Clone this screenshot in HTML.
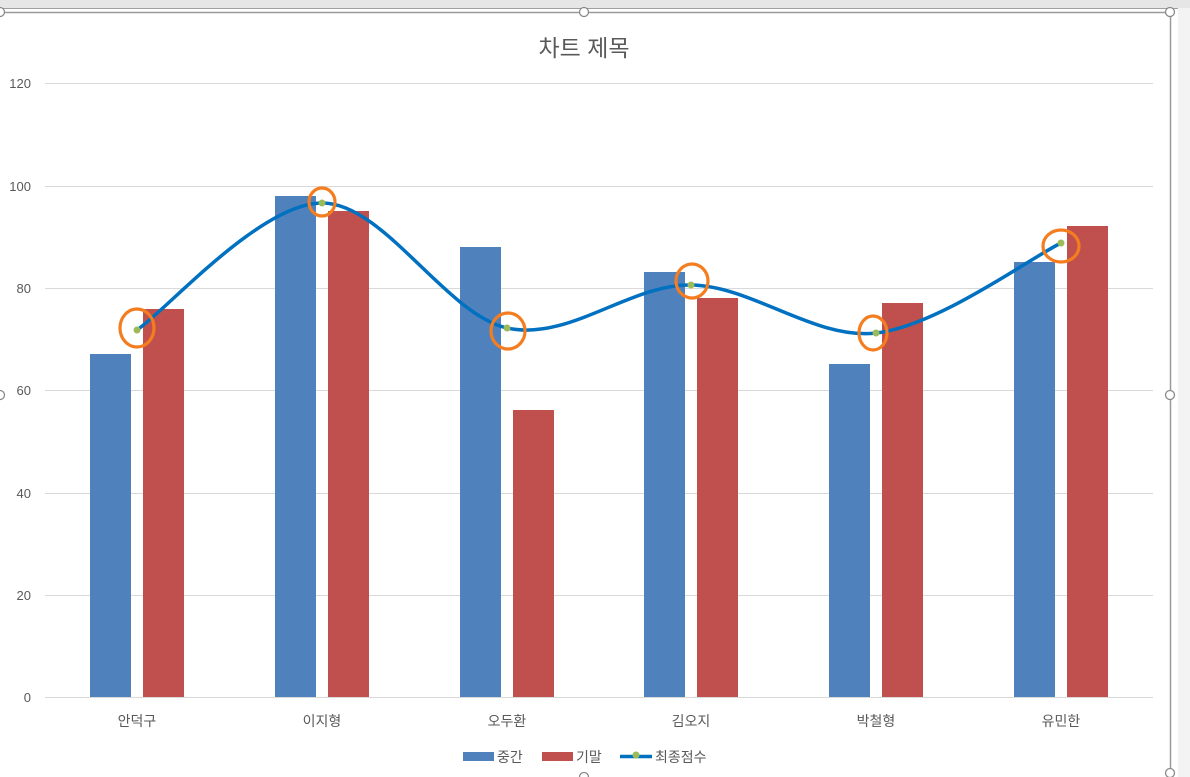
<!DOCTYPE html>
<html><head><meta charset="utf-8"><style>
html,body{margin:0;padding:0;background:#fff;}
svg{display:block;font-family:"Liberation Sans","Noto Sans CJK KR",sans-serif;}
</style></head><body>
<svg width="1190" height="777" viewBox="0 0 1190 777">
<rect x="0" y="0" width="1190" height="8" fill="#e6e6e6"/>
<line x1="0" y1="8.5" x2="1190" y2="8.5" stroke="#a0a0a0"/>
<rect x="1178" y="8" width="12" height="769" fill="#f3f3f3"/>
<line x1="0" y1="12.5" x2="1170" y2="12.5" stroke="#9a9a9a" stroke-width="1.5"/>
<line x1="1170.5" y1="12" x2="1170.5" y2="777" stroke="#9a9a9a" stroke-width="1.5"/>
<g fill="#fff" stroke="#8a8a8a" stroke-width="1.3">
<circle cx="0" cy="12" r="4.5"/><circle cx="584" cy="12" r="4.5"/><circle cx="1170" cy="12" r="4.5"/>
<circle cx="0" cy="395" r="4.5"/><circle cx="1170" cy="395" r="4.5"/><circle cx="1170" cy="773" r="4.5"/><circle cx="584" cy="777" r="4.5"/>
</g>
<text x="584" y="56" text-anchor="middle" font-size="23" fill="#595959">차트 제목</text>
<g stroke="#d9d9d9" stroke-width="1">
<line x1="45" y1="83.5" x2="1153" y2="83.5"/><line x1="45" y1="186.5" x2="1153" y2="186.5"/>
<line x1="45" y1="288.5" x2="1153" y2="288.5"/><line x1="45" y1="390.5" x2="1153" y2="390.5"/>
<line x1="45" y1="493.5" x2="1153" y2="493.5"/><line x1="45" y1="595.5" x2="1153" y2="595.5"/>
<line x1="45" y1="697.5" x2="1153" y2="697.5"/>
</g>
<g font-size="13" fill="#595959" text-anchor="end">
<text x="31" y="88">120</text><text x="31" y="191">100</text><text x="31" y="293">80</text>
<text x="31" y="395">60</text><text x="31" y="498">40</text><text x="31" y="600">20</text><text x="31" y="702">0</text>
</g>
<g fill="#4f81bd">
<rect x="90" y="354" width="41" height="343"/><rect x="275" y="196" width="41" height="501"/>
<rect x="460" y="247" width="41" height="450"/><rect x="644" y="272" width="41" height="425"/>
<rect x="829" y="364" width="41" height="333"/><rect x="1014" y="262" width="41" height="435"/>
</g>
<g fill="#c0504d">
<rect x="143" y="309" width="41" height="388"/><rect x="328" y="211" width="41" height="486"/>
<rect x="513" y="410" width="41" height="287"/><rect x="697" y="298" width="41" height="399"/>
<rect x="882" y="303" width="41" height="394"/><rect x="1067" y="226" width="41" height="471"/>
</g>
<g font-size="14" fill="#595959" text-anchor="middle">
<text x="137" y="726">안덕구</text><text x="322" y="726">이지형</text><text x="507" y="726">오두환</text>
<text x="691" y="726">김오지</text><text x="876" y="726">박철형</text><text x="1061" y="726">유민한</text>
</g>
<path d="M137,330 C167.8,308.8 260.3,203.3 322,203 C383.7,202.7 445.5,314.3 507,328 C568.5,341.7 629.5,284.2 691,285 C752.5,285.8 814.3,340 876,333 C937.7,326 1030.2,258 1061,243" fill="none" stroke="#0070c0" stroke-width="3.5"/>
<g fill="#9bbb59">
<circle cx="137" cy="330" r="3.5"/><circle cx="322" cy="203" r="3.5"/><circle cx="507" cy="328" r="3.5"/>
<circle cx="691" cy="285" r="3.5"/><circle cx="876" cy="333" r="3.5"/><circle cx="1061" cy="243" r="3.5"/>
</g>
<g fill="none" stroke="#f47d20" stroke-width="3.2">
<ellipse cx="137" cy="328" rx="17" ry="19"/><ellipse cx="322" cy="202" rx="13" ry="14"/>
<ellipse cx="508" cy="331" rx="17" ry="18"/><ellipse cx="692" cy="281" rx="16" ry="17"/>
<ellipse cx="873" cy="333" rx="14" ry="17"/><ellipse cx="1061" cy="246" rx="18" ry="16"/>
</g>
<rect x="463" y="752" width="31" height="9" fill="#4f81bd"/>
<text x="497" y="762" font-size="14" fill="#595959">중간</text>
<rect x="542" y="752" width="31" height="9" fill="#c0504d"/>
<text x="576" y="762" font-size="14" fill="#595959">기말</text>
<line x1="620" y1="756.5" x2="652" y2="756.5" stroke="#0070c0" stroke-width="3.5"/>
<circle cx="636" cy="755" r="3.5" fill="#9bbb59"/>
<text x="655" y="762" font-size="14" fill="#595959">최종점수</text>
</svg>
</body></html>
